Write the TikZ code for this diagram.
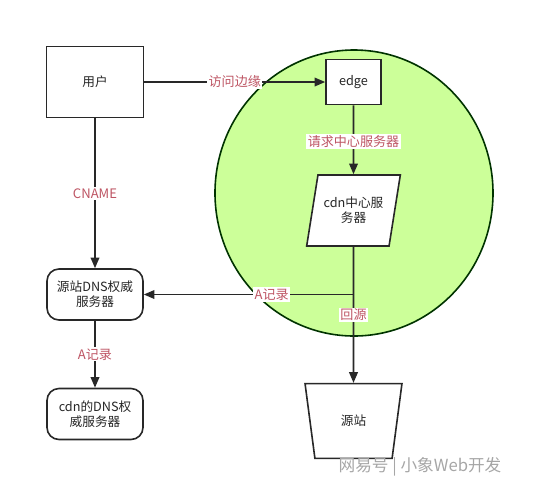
\documentclass[tikz,border=0pt]{standalone}
\usepackage{fontspec}
\setmainfont{Noto Sans CJK SC}
\usepackage{xcolor}
\usepackage{tikz}
\usetikzlibrary{shapes,shapes.geometric,arrows.meta,positioning,backgrounds}

\definecolor{labelred}{RGB}{190,85,100}
\definecolor{zonegreen}{RGB}{204,255,153}
\definecolor{linegray}{RGB}{40,40,40}

\begin{document}
\begin{tikzpicture}[x=0.75pt, y=-0.75pt,
    every node/.style={font=\fontsize{9.5}{11.3}\selectfont, text=black!85},
    line/.style={draw=linegray, line width=1.2pt},
    arrow/.style={line, -{Triangle[length=8pt,width=6.5pt]}},
    lbl/.style={fill=white, inner sep=1pt, text=labelred, font=\fontsize{9.8}{11.3}\selectfont}]

    \useasboundingbox (0,0) rectangle (539,487);

    % Zone
    \begin{scope}[on background layer]
      \draw[line, draw=black!80!green, fill=zonegreen] (354,193) ellipse [x radius=104.25pt, y radius=107.25pt];
    \end{scope}

    % Nodes
    \node[rectangle, line, fill=white, minimum width=72.75pt, minimum height=53.25pt] (user) at (95,82) {用户};
    \node[rectangle, line, fill=white, minimum width=41.25pt, minimum height=33.75pt] (edge) at (353.5,82) {edge};
    \node[trapezium, trapezium left angle=73, trapezium right angle=107, trapezium stretches=true, line, fill=white, minimum width=70.5pt, minimum height=53.25pt, align=center] (center) at (353.5,210.5) {cdn中心服\\务器};
    \node[trapezium, trapezium angle=78, trapezium stretches=true, shape border rotate=180, line, fill=white, minimum width=72.75pt, minimum height=56pt] (origin) at (353.5,421) {源站};
    \node[rectangle, rounded corners=9pt, line, fill=white, minimum width=72pt, minimum height=38.25pt, align=center] (dnsorigin) at (95,294.5) {源站DNS权威\\服务器};
    \node[rectangle, rounded corners=9pt, line, fill=white, minimum width=72pt, minimum height=38.25pt, align=center] (dnscdn) at (95,414) {cdn的DNS权\\威服务器};
    \coordinate (split) at (center.south |- dnsorigin.east);

    % Connectors
    \draw[arrow] (user) -- node[lbl] {访问边缘} (edge);
    \draw[arrow] (edge) -- node[lbl, pos=0.53] {请求中心服务器} (center);
    \draw[arrow] (center.south) -- node[lbl] {回源} (origin.bottom side);
    \draw[arrow] (split) -- node[lbl, pos=0.39] {A记录} (dnsorigin);
    \draw[arrow] (user) -- node[lbl] {CNAME} (dnsorigin);
    \draw[arrow] (dnsorigin) -- node[lbl] {A记录} (dnscdn);

    % Watermark
    \node[text=black!35, font=\fontsize{12.5}{14}\selectfont] (mark) at (420,467) {网易号 \textbar\ 小象Web开发};

\end{tikzpicture}
\end{document}
